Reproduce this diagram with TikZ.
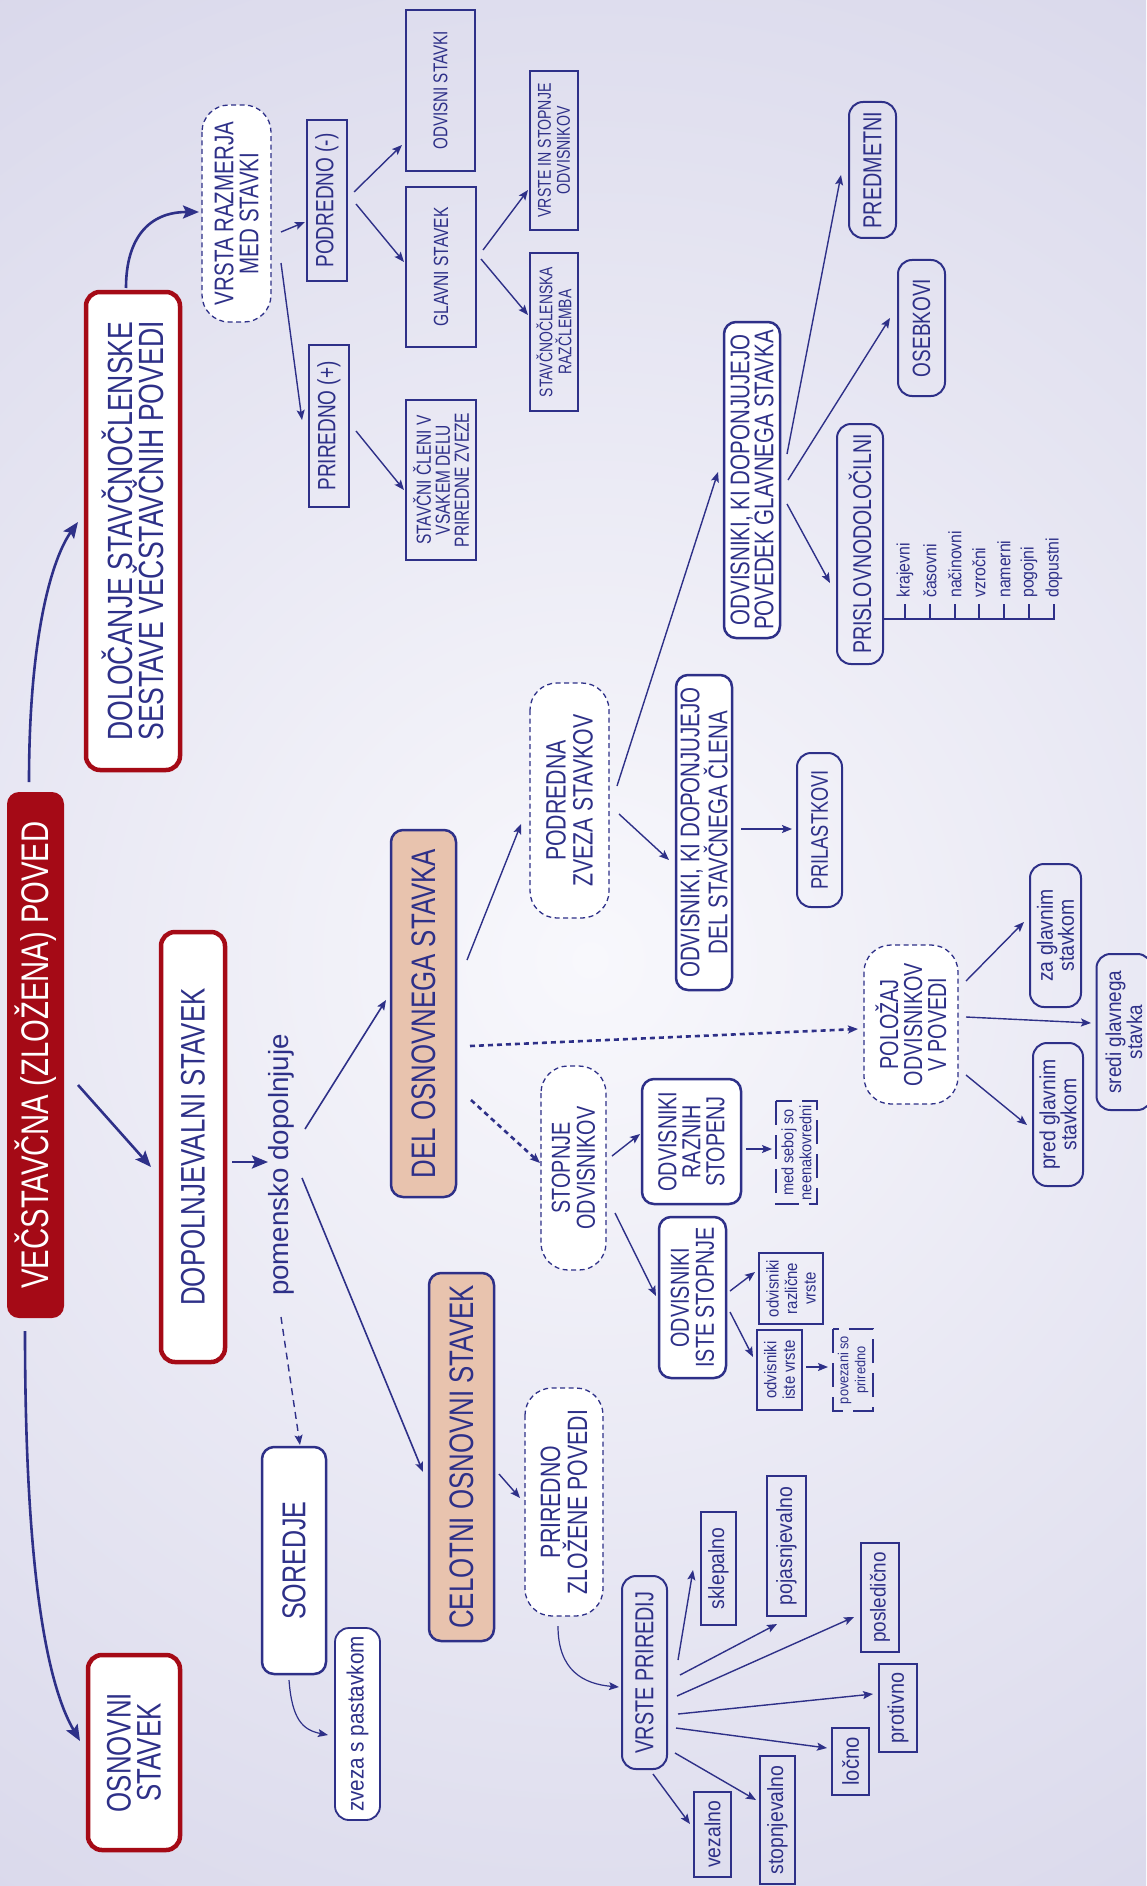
\documentclass[tikz,border=0pt]{standalone}
\usepackage{fontspec}
\setmainfont{Liberation Sans}
\newfontfamily\cnfont[FakeStretch=0.76]{Liberation Sans}
\newfontfamily\lcfont[FakeStretch=0.88]{Liberation Sans}
\usetikzlibrary{arrows.meta,calc}

\definecolor{vblue}{HTML}{2E3088}
\definecolor{vred}{HTML}{A50A16}
\definecolor{vpeach}{HTML}{E8C3AE}
\definecolor{bgin}{HTML}{F8F8FC}
\definecolor{bgout}{HTML}{C2C0DE}

\newcommand{\fs}[2]{\fontsize{#1}{#2}\selectfont}

\tikzset{
    every node/.style={rotate=90, inner sep=0pt, align=center, text=vblue},
    dims/.style 2 args={minimum width=#1pt, minimum height=#2pt},
    mainbox/.style={fill=vred, rounded corners=12pt, text=white},
    redbox/.style={draw=vred, line width=4.5pt, fill=white, rounded corners=14pt},
    bluebox/.style={draw=vblue, line width=2.5pt, fill=white, rounded corners=12pt},
    peachbox/.style={bluebox, fill=vpeach},
    dashbox/.style={draw=vblue, line width=1.3pt, dash pattern=on 5pt off 3.5pt, fill=white, rounded corners=27pt},
    openbox/.style={draw=vblue, line width=2pt, rounded corners=14pt},
    rectbox/.style={draw=vblue, line width=1.5pt},
    brkbox/.style={draw=vblue, line width=1.2pt, dash pattern=on 24pt off 10pt},
    link/.style={vblue, line width=1.4pt, -{Stealth[length=10pt,width=8pt,inset=2pt]}},
    biglink/.style={vblue, line width=2.6pt, -{Stealth[length=16pt,width=13pt,inset=3pt]}},
    dotlink/.style={link, line width=2.6pt, dash pattern=on 5pt off 4pt},
    dashlink/.style={link, dash pattern=on 7pt off 5pt}
}

\begin{document}
\begin{tikzpicture}[x=1pt, y=-1pt]
    \useasboundingbox (0,0) rectangle (1146,1886);
    % background
    \fill[bgout] (0,0) rectangle (1146,1886);
    \begin{scope}
        \clip (0,0) rectangle (1146,1886);
        \shade[inner color=bgin, outer color=bgout] (590,960) circle (2000);
    \end{scope}

    % main level
    \node[mainbox, dims={526}{57}, font=\cnfont\fs{38.5}{40}] (main) at (35.5,1055) {VEČSTAVČNA (ZLOŽENA) POVED};
    \node[redbox, dims={478}{94}, font=\cnfont\fs{35}{31}] (dolo) at (133,531) {DOLOČANJE STAVČNOČLENSKE\\SESTAVE VEČSTAVČNIH POVEDI};
    \node[redbox, dims={195}{92}, font=\cnfont\fs{34}{30}] (osnov) at (134,1752.5) {OSNOVNI\\STAVEK};
    \node[redbox, dims={430}{64}, font=\cnfont\fs{34}{34}] (dopol) at (193,1147) {DOPOLNJEVALNI STAVEK};

    % dopolnjevalni stavek
    \node[font=\fs{27.7}{28}] (pomen) at (281,1165) {pomensko dopolnjuje};
    \node[bluebox, dims={227}{64}, font=\cnfont\fs{33}{33}] (sored) at (294,1560.5) {SOREDJE};
    \node[openbox, fill=white, line width=1.8pt, dims={192}{45}, font=\lcfont\fs{23.5}{23}] (zveza) at (357.5,1724) {zveza s pastavkom};
    \node[peachbox, dims={368}{65}, font=\cnfont\fs{34}{34}] (celot) at (461.5,1457) {CELOTNI OSNOVNI STAVEK};
    \node[peachbox, dims={367}{65}, font=\cnfont\fs{34}{34}] (delos) at (423.5,1013.5) {DEL OSNOVNEGA STAVKA};

    \node[dashbox, dims={235}{79}, font=\cnfont\fs{28}{27}] (podre) at (569.5,800.5) {PODREDNA\\ZVEZA STAVKOV};
    \node[dashbox, dims={204}{65}, font=\cnfont\fs{26}{25}] (stopo) at (573.5,1168) {STOPNJE\\ODVISNIKOV};
    \node[bluebox, dims={315}{56}, font=\cnfont\fs{27}{25}] (odvcl) at (704,832.5) {ODVISNIKI, KI DOPONJUJEJO\\DEL STAVČNEGA ČLENA};
    \node[openbox, dims={154}{45}, font=\cnfont\fs{24}{24}] (prila) at (819.5,830) {PRILASTKOVI};
    \node[dashbox, dims={159}{94}, font=\cnfont\fs{26}{24}] (polo) at (911,1024.5) {POLOŽAJ\\ODVISNIKOV\\V POVEDI};
    \node[openbox, dims={143}{51}, font=\lcfont\fs{22}{21}] (zagl) at (1055.5,935.5) {za glavnim\\stavkom};
    \node[openbox, dims={156}{55}, font=\lcfont\fs{21.5}{21}] (sredi) at (1124,1032) {sredi glavnega\\stavka};
    \node[openbox, dims={143}{50}, font=\lcfont\fs{22}{21}] (pred) at (1058,1114.5) {pred glavnim\\stavkom};
    \node[bluebox, dims={125}{99}, font=\cnfont\fs{26}{24}] (razni) at (691.5,1141.5) {ODVISNIKI\\RAZNIH\\STOPENJ};
    \node[brkbox, dims={103}{41}, font=\lcfont\fs{16.5}{18}] (medse) at (796.5,1152.5) {med seboj so\\neenakovredni};
    \node[bluebox, dims={161}{67}, font=\cnfont\fs{26}{25}] (istes) at (692.5,1297.5) {ODVISNIKI\\ISTE STOPNJE};
    \node[rectbox, dims={71}{64}, font=\lcfont\fs{17}{18.5}] (razli) at (791,1288.5) {odvisniki\\različne\\vrste};
    \node[rectbox, dims={80}{45}, font=\lcfont\fs{17}{18.5}] (istev) at (779.5,1370) {odvisniki\\iste vrste};
    \node[brkbox, dims={82}{40}, font=\lcfont\fs{14.5}{17}] (pover) at (853,1370) {povezani so\\priredno};

    \node[dashbox, dims={228}{78}, font=\cnfont\fs{28}{27}] (prizl) at (564,1502) {PRIREDNO\\ZLOŽENE POVEDI};
    \node[openbox, dims={193}{45}, font=\cnfont\fs{26}{26}] (vrspr) at (644.5,1672.5) {VRSTE PRIREDIJ};
    \node[rectbox, dims={113}{35}, font=\lcfont\fs{22}{22}] (sklep) at (718.5,1568.5) {sklepalno};
    \node[rectbox, dims={140}{39}, font=\lcfont\fs{22}{22}] (pojas) at (786.5,1546) {pojasnjevalno};
    \node[rectbox, dims={109}{38}, font=\lcfont\fs{21.5}{22}] (posle) at (880,1597.5) {posledično};
    \node[rectbox, dims={88}{38}, font=\lcfont\fs{22.5}{22}] (proti) at (898,1708) {protivno};
    \node[rectbox, dims={67}{37}, font=\lcfont\fs{23}{22}] (locno) at (850.5,1761.5) {ločno};
    \node[rectbox, dims={128}{35}, font=\lcfont\fs{22}{22}] (stopn) at (777.5,1820) {stopnjevalno};
    \node[rectbox, dims={85}{37}, font=\lcfont\fs{22}{22}] (vezal) at (712.5,1834.5) {vezalno};

    % stavcnoclenska sestava
    \node[dashbox, dims={217}{69}, font=\cnfont\fs{27}{25}] (vrsra) at (236.5,213.5) {VRSTA RAZMERJA\\MED STAVKI};
    \node[rectbox, line width=2pt, dims={161}{40}, font=\cnfont\fs{25}{25}] (podno) at (327,200.5) {PODREDNO (-)};
    \node[rectbox, line width=2pt, dims={162}{40}, font=\cnfont\fs{25}{25}] (prino) at (329,426) {PRIREDNO (+)};
    \node[rectbox, dims={161}{69}, font=\cnfont\fs{20}{20}] (odvst) at (440.5,90.5) {ODVISNI STAVKI};
    \node[rectbox, dims={160}{70}, font=\cnfont\fs{20.5}{20}] (glavn) at (441,267) {GLAVNI STAVEK};
    \node[rectbox, dims={160}{70}, font=\cnfont\fs{20.4}{19}] (stcle) at (441,480) {STAVČNI ČLENI V\\VSAKEM DELU\\PRIREDNE ZVEZE};
    \node[rectbox, dims={159}{48}, font=\cnfont\fs{18.6}{19}] (vrsto) at (554,150.5) {VRSTE IN STOPNJE\\ODVISNIKOV};
    \node[rectbox, dims={158}{48}, font=\cnfont\fs{18.3}{19}] (razcl) at (554,332) {STAVČNOČLENSKA\\RAZČLEMBA};

    \node[bluebox, dims={316}{56}, font=\cnfont\fs{27}{24}] (odvgl) at (752,480) {ODVISNIKI, KI DOPONJUJEJO\\POVEDEK GLAVNEGA STAVKA};
    \node[openbox, dims={136}{47}, font=\cnfont\fs{26}{26}] (predm) at (872.5,170) {PREDMETNI};
    \node[openbox, dims={136}{47}, font=\cnfont\fs{25}{25}] (osebk) at (921.5,328) {OSEBKOVI};
    \node[openbox, dims={240}{46}, font=\cnfont\fs{25.7}{26}] (prisl) at (860,544) {PRISLOVNODOLOČILNI};

    % vrste prislovnodolocilnih
    \draw[vblue, line width=1.2pt] ($(prisl.center)+(23,75)$) -- (1055,619);
    \foreach \x/\w in {905/krajevni, 930/časovni, 955/načinovni, 979/vzročni, 1004/namerni, 1029/pogojni, 1054/dopustni} {
        \draw[vblue, line width=1.2pt] (\x,619) -- (\x,604);
        \node[anchor=west, font=\lcfont\fs{18}{18}] at (\x,598) {\w};
    }

    % connectors from the main node
    \draw[biglink] ($(main.center)+(-6.5,-273)$) .. controls +(0,-150) and +(-25,35) .. ($(dolo.center)+(-55,-9)$);
    \draw[biglink] ($(main.center)+(-10.5,276)$) .. controls +(0,230) and +(-35,-60) .. ($(osnov.center)+(-54,-11.5)$);
    \draw[biglink] ($(main.center)+(42.5,30)$) -- ($(dopol.center)+(-42,20)$);
    \draw[biglink] ($(dolo.center)+(-7,-243)$) .. controls +(0,-50) and +(-50,0) .. ($(vrsra.center)+(-37.5,-1.5)$);

    % razmerje med stavki
    \draw[link] ($(vrsra.center)+(44.5,18.5)$) -- ($(podno.center)+(-22,21.5)$);
    \draw[link] ($(vrsra.center)+(44.5,49.5)$) -- ($(prino.center)+(-27,-6)$);
    \draw[link] ($(podno.center)+(27,-8.5)$) -- ($(odvst.center)+(-38.5,54.5)$);
    \draw[link] ($(podno.center)+(29,3.5)$) -- ($(glavn.center)+(-37,-5)$);
    \draw[link] ($(prino.center)+(27,5)$) -- ($(stcle.center)+(-37,10)$);
    \draw[link] ($(glavn.center)+(42,-17)$) -- ($(vrsto.center)+(-26,39.5)$);
    \draw[link] ($(glavn.center)+(40,-8)$) -- ($(razcl.center)+(-26,-17)$);

    % dopolnjevalni stavek
    \draw[biglink] ($(dopol.center)+(39,15)$) -- ($(pomen.center)+(-13,-3)$);
    \draw[link, line width=1.6pt] ($(pomen.center)+(24,-36)$) -- ($(delos.center)+(-37.5,-13.5)$);
    \draw[link, line width=1.6pt] ($(pomen.center)+(21,13)$) -- ($(celot.center)+(-38.5,15)$);
    \draw[dashlink] ($(pomen.center)+(0,152)$) -- ($(sored.center)+(6,-115.5)$);
    \draw[link, line width=1.2pt] ($(sored.center)+(-5,119.5)$) .. controls +(3,40) and +(-25,-5) .. ($(zveza.center)+(-29.5,11)$);

    % celotni osnovni stavek
    \draw[link] ($(celot.center)+(37.5,17)$) -- ($(prizl.center)+(-44,-4)$);
    \draw[link, line width=1.2pt] ($(prizl.center)+(-6,124)$) .. controls +(0,45) and +(-35,-3) .. ($(vrspr.center)+(-25.5,14.5)$);
    \draw[link] ($(vrspr.center)+(33.5,-12.5)$) -- ($(sklep.center)+(-25.5,1.5)$);
    \draw[link] ($(vrspr.center)+(35.5,2.5)$) -- ($(pojas.center)+(-9.5,78)$);
    \draw[link] ($(vrspr.center)+(32.5,23.5)$) -- ($(posle.center)+(-26,19.5)$);
    \draw[link] ($(vrspr.center)+(33.5,41.5)$) -- ($(proti.center)+(-25,-14)$);
    \draw[link] ($(vrspr.center)+(31.5,55.5)$) -- ($(locno.center)+(-23.5,-13.5)$);
    \draw[link] ($(vrspr.center)+(30.5,80.5)$) -- ($(stopn.center)+(-21.5,-20)$);
    \draw[link] ($(vrspr.center)+(8.5,101.5)$) -- ($(vezal.center)+(-22.5,-10.5)$);

    % del osnovnega stavka
    \draw[link] ($(delos.center)+(43.5,-53.5)$) -- ($(podre.center)+(-48.5,23.5)$);
    \draw[dotlink] ($(delos.center)+(46.5,32.5)$) -- ($(polo.center)+(-53,4.5)$);
    \draw[dotlink] ($(delos.center)+(47.5,86.5)$) -- ($(stopo.center)+(-33.5,-5)$);
    \draw[link] ($(podre.center)+(49.5,13.5)$) -- ($(odvcl.center)+(-35,27.5)$);
    \draw[link] ($(podre.center)+(47.5,-14.5)$) -- ($(odvgl.center)+(-34,-8)$);
    \draw[link] ($(odvcl.center)+(37,-3.5)$) -- ($(prila.center)+(-27.5,-1)$);
    \draw[link] ($(odvgl.center)+(35,-26)$) -- ($(predm.center)+(-31.5,5)$);
    \draw[link] ($(odvgl.center)+(36,0)$) -- ($(osebk.center)+(-31.5,-10)$);
    \draw[link] ($(odvgl.center)+(35,24)$) -- ($(prisl.center)+(-30,39)$);
    \draw[link] ($(polo.center)+(55,-43.5)$) -- ($(zagl.center)+(-31.5,-13.5)$);
    \draw[link] ($(polo.center)+(55,-7.5)$) -- ($(sredi.center)+(-33,-9)$);
    \draw[link] ($(polo.center)+(55,50.5)$) -- ($(pred.center)+(-31,10.5)$);
    \draw[link] ($(stopo.center)+(38.5,-12)$) -- ($(razni.center)+(-51.5,-7.5)$);
    \draw[link] ($(stopo.center)+(41.5,45)$) -- ($(istes.center)+(-36.5,-1.5)$);
    \draw[link] ($(razni.center)+(54.5,7.5)$) -- ($(medse.center)+(-24.5,-3.5)$);
    \draw[link] ($(istes.center)+(37.5,-6.5)$) -- ($(razli.center)+(-36,-16.5)$);
    \draw[link] ($(istes.center)+(37.5,14.5)$) -- ($(istev.center)+(-26.5,-13)$);
    \draw[link] ($(istev.center)+(26.5,-3)$) -- ($(pover.center)+(-25,-3)$);
\end{tikzpicture}
\end{document}
